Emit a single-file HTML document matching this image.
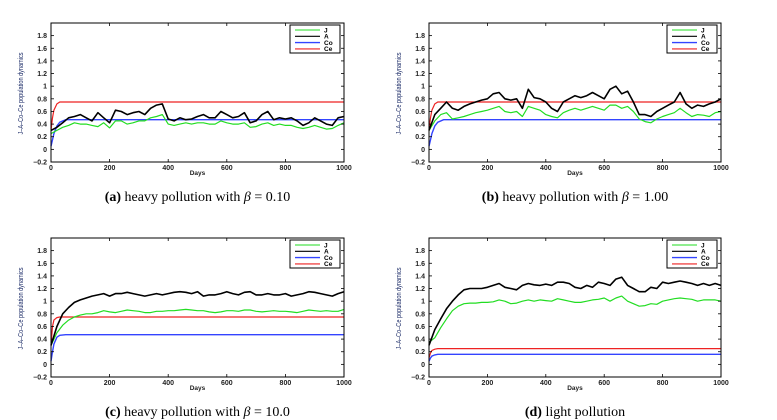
<!DOCTYPE html>
<html><head><meta charset="utf-8"><style>
body{margin:0;background:#fff;width:777px;height:420px;overflow:hidden}
svg{display:block}
text{font-family:"Liberation Sans",sans-serif}
</style></head><body>
<svg id="fig" width="777" height="420" xmlns="http://www.w3.org/2000/svg"></svg>
<script>
const days20 = Array.from({length:51},(_,i)=>i*20);
const coDays = [0,5,10,20,30,50,1000];
const yTicks = [-0.2,0,0.2,0.4,0.6,0.8,1,1.2,1.4,1.6,1.8];
const yTickLabels = ["\u22120.2","0","0.2","0.4","0.6","0.8","1","1.2","1.4","1.6","1.8"];
const xTicks = [0,200,400,600,800,1000];
const legendNames = ["J","A","Co","Ce"];

const aA=[0.3,0.35,0.42,0.5,0.52,0.55,0.5,0.45,0.58,0.5,0.42,0.62,0.6,0.55,0.58,0.6,0.55,0.65,0.7,0.72,0.48,0.45,0.5,0.47,0.48,0.52,0.55,0.5,0.5,0.6,0.55,0.5,0.52,0.58,0.42,0.45,0.55,0.6,0.47,0.5,0.48,0.5,0.45,0.38,0.42,0.5,0.45,0.4,0.38,0.5,0.52];
const aJ=[0.25,0.3,0.35,0.38,0.42,0.4,0.4,0.38,0.36,0.42,0.34,0.45,0.45,0.4,0.42,0.45,0.45,0.5,0.52,0.55,0.4,0.38,0.4,0.42,0.4,0.42,0.42,0.4,0.4,0.45,0.42,0.4,0.4,0.42,0.35,0.36,0.4,0.42,0.38,0.4,0.38,0.38,0.35,0.33,0.35,0.38,0.35,0.32,0.33,0.38,0.42];
const aCo=[0.05,0.15,0.25,0.37,0.43,0.47,0.47];
const aCe=[0.3,0.5,0.62,0.72,0.75,0.75,0.75];

const bA=[0.3,0.55,0.65,0.75,0.65,0.62,0.68,0.72,0.75,0.78,0.8,0.88,0.9,0.8,0.78,0.8,0.65,0.95,0.82,0.8,0.75,0.65,0.6,0.75,0.8,0.85,0.82,0.85,0.9,0.85,0.8,0.95,1.0,0.88,0.92,0.75,0.55,0.55,0.52,0.6,0.65,0.7,0.75,0.9,0.72,0.65,0.7,0.68,0.72,0.75,0.8];
const bJ=[0.3,0.45,0.55,0.58,0.48,0.5,0.52,0.55,0.58,0.6,0.62,0.65,0.68,0.6,0.58,0.6,0.52,0.68,0.65,0.62,0.55,0.52,0.5,0.58,0.62,0.65,0.62,0.65,0.68,0.65,0.62,0.7,0.7,0.65,0.68,0.6,0.48,0.44,0.42,0.48,0.52,0.55,0.58,0.65,0.58,0.52,0.55,0.54,0.52,0.58,0.6];
const bCo=[0.05,0.15,0.25,0.37,0.43,0.47,0.47];
const bCe=[0.3,0.5,0.62,0.72,0.75,0.75,0.75];

const cA=[0.3,0.6,0.8,0.9,0.98,1.02,1.05,1.08,1.1,1.12,1.08,1.12,1.12,1.14,1.12,1.1,1.08,1.1,1.12,1.1,1.12,1.14,1.15,1.14,1.12,1.15,1.08,1.1,1.1,1.12,1.15,1.12,1.1,1.14,1.15,1.1,1.1,1.12,1.1,1.1,1.12,1.08,1.1,1.12,1.15,1.14,1.12,1.1,1.08,1.12,1.15];
const cJ=[0.3,0.5,0.62,0.7,0.75,0.78,0.8,0.8,0.82,0.85,0.83,0.82,0.84,0.86,0.85,0.84,0.82,0.82,0.84,0.84,0.85,0.85,0.86,0.87,0.86,0.85,0.85,0.83,0.82,0.83,0.85,0.85,0.84,0.86,0.86,0.84,0.83,0.84,0.85,0.84,0.84,0.83,0.82,0.84,0.86,0.85,0.84,0.85,0.84,0.84,0.87];
const cCo=[0.05,0.2,0.32,0.43,0.46,0.47,0.47];
const cCe=[0.3,0.6,0.7,0.74,0.75,0.75,0.75];

const dA=[0.3,0.55,0.72,0.88,1.0,1.1,1.18,1.2,1.2,1.2,1.22,1.25,1.28,1.22,1.2,1.18,1.25,1.28,1.26,1.25,1.27,1.25,1.3,1.3,1.28,1.22,1.2,1.25,1.22,1.3,1.28,1.25,1.35,1.38,1.25,1.2,1.15,1.15,1.22,1.2,1.3,1.28,1.3,1.32,1.3,1.28,1.25,1.28,1.25,1.28,1.25];
const dJ=[0.35,0.42,0.58,0.72,0.85,0.92,0.96,0.97,0.97,0.98,0.98,0.99,1.02,1.0,0.96,0.97,1.0,1.02,1.0,1.02,1.01,1.0,1.04,1.02,1.0,0.98,0.98,1.0,1.02,1.03,1.05,1.0,1.05,1.08,1.0,0.96,0.92,0.93,0.96,0.95,1.0,1.02,1.04,1.05,1.04,1.03,1.0,1.02,1.02,1.02,1.0];
const dCo=[0.05,0.1,0.13,0.15,0.16,0.16,0.16];
const dCe=[0.1,0.18,0.22,0.24,0.25,0.25,0.25];

const panels=[
 {id:"a",L:51,R:344,T:23,B:162,J:aJ,A:aA,Co:aCo,Ce:aCe,cap:["(a)"," heavy pollution with ","β"," = 0.10"]},
 {id:"b",L:429,R:721,T:23,B:162,J:bJ,A:bA,Co:bCo,Ce:bCe,cap:["(b)"," heavy pollution with ","β"," = 1.00"]},
 {id:"c",L:51,R:344,T:238,B:377,J:cJ,A:cA,Co:cCo,Ce:cCe,cap:["(c)"," heavy pollution with ","β"," = 10.0"]},
 {id:"d",L:429,R:721,T:238,B:377,J:dJ,A:dA,Co:dCo,Ce:dCe,cap:["(d)"," light pollution","",""]}
];
const NS="http://www.w3.org/2000/svg";
const svg=document.getElementById("fig");
function mk(tag,attrs,parent){const e=document.createElementNS(NS,tag);for(const k in attrs)e.setAttribute(k,attrs[k]);(parent||svg).appendChild(e);return e;}
const colors={J:"#22dd22",A:"#000",Co:"#3344ff",Ce:"#ee2222"};
panels.forEach(p=>{
  const g=mk("g",{});
  
  
  const xs=v=>p.L+(v/1000)*(p.R-p.L);
  const ys=v=>p.B-(v+0.2)/2.2*(p.B-p.T);
  const path=(xsArr,vals)=>vals.map((v,i)=>(i?"L":"M")+xs(xsArr[i]).toFixed(1)+","+ys(v).toFixed(1)).join("");
  const ce=mk("path",{d:path(coDays,p.Ce),fill:"none",stroke:colors.Ce,"stroke-width":1.2},g);
  
  
  const co=mk("path",{d:path(coDays,p.Co),fill:"none",stroke:colors.Co,"stroke-width":1.4},g);
  
  
  const j=mk("path",{d:path(days20,p.J),fill:"none",stroke:colors.J,"stroke-width":1.2,"stroke-linejoin":"round"},g);
  
  
  const a=mk("path",{d:path(days20,p.A),fill:"none",stroke:colors.A,"stroke-width":1.6,"stroke-linejoin":"round"},g);
  
  
  const fr=mk("rect",{x:p.L,y:p.T,width:p.R-p.L,height:p.B-p.T,fill:"none",stroke:"#000","stroke-width":1},g);
  
  
  yTicks.forEach((t,i)=>{
    const y=ys(t);
    mk("line",{x1:p.L,x2:p.L+3,y1:y,y2:y,stroke:"#000","stroke-width":0.8},g);
    mk("line",{x1:p.R,x2:p.R-3,y1:y,y2:y,stroke:"#000","stroke-width":0.8},g);
    const tl=mk("text",{x:p.L-4,y:y+2.5,"font-size":7,"font-weight":"bold","text-anchor":"end",fill:"#222"},g);
    tl.textContent=yTickLabels[i];
    
    
  });
  xTicks.forEach(t=>{
    const x=xs(t);
    mk("line",{x1:x,x2:x,y1:p.B,y2:p.B-3,stroke:"#000","stroke-width":0.8},g);
    mk("line",{x1:x,x2:x,y1:p.T,y2:p.T+3,stroke:"#000","stroke-width":0.8},g);
    const tl=mk("text",{x:x,y:p.B+8,"font-size":7,"font-weight":"bold","text-anchor":"middle",fill:"#222"},g);
    tl.textContent=t;
    
    
  });
  const xt=mk("text",{x:(p.L+p.R)/2,y:p.B+13,"font-size":6.5,"font-weight":"bold","text-anchor":"middle",fill:"#222"},g);
  xt.textContent="Days";
  
  
  const cy=(p.T+p.B)/2+1;
  const yt=mk("text",{x:0,y:0,transform:`translate(${p.L-28},${cy}) rotate(-90)`,"font-size":7,"text-anchor":"middle",fill:"#1a2a66",textLength:82,lengthAdjust:"spacingAndGlyphs"},g);
  yt.textContent="J–A–Co–Ce population dynamics";
  
  
  const lg=mk("g",{},g);
  
  
  const lx=p.R-54,ly=p.T+2;
  mk("rect",{x:lx,y:ly,width:50,height:28,fill:"#fff",stroke:"#000","stroke-width":1},lg);
  legendNames.forEach((n,i)=>{
    const yy=ly+5+i*6.3;
    const ln=mk("line",{x1:lx+5,x2:lx+30,y1:yy,y2:yy,stroke:colors[n],"stroke-width":n==="Co"?1.4:1.1},lg);
    
    
    const tx=mk("text",{x:lx+34,y:yy+2.3,"font-size":6.5,"font-weight":"bold",fill:"#000"},lg);
    tx.textContent=n;
  });
  const cap=mk("text",{x:(p.L+p.R)/2,y:p.B+39,"font-size":14,"text-anchor":"middle",fill:"#000","font-family":"Liberation Serif, serif"},g);
  
  
  const s1=mk("tspan",{"font-weight":"bold","font-family":"Liberation Serif, serif"},cap);s1.textContent=p.cap[0];
  const s2=mk("tspan",{"font-family":"Liberation Serif, serif"},cap);s2.textContent=p.cap[1];
  if(p.cap[2]){const s3=mk("tspan",{"font-style":"italic","font-family":"Liberation Serif, serif"},cap);s3.textContent=p.cap[2];
  const s4=mk("tspan",{"font-family":"Liberation Serif, serif"},cap);s4.textContent=p.cap[3];}
});
</script>
</body></html>
